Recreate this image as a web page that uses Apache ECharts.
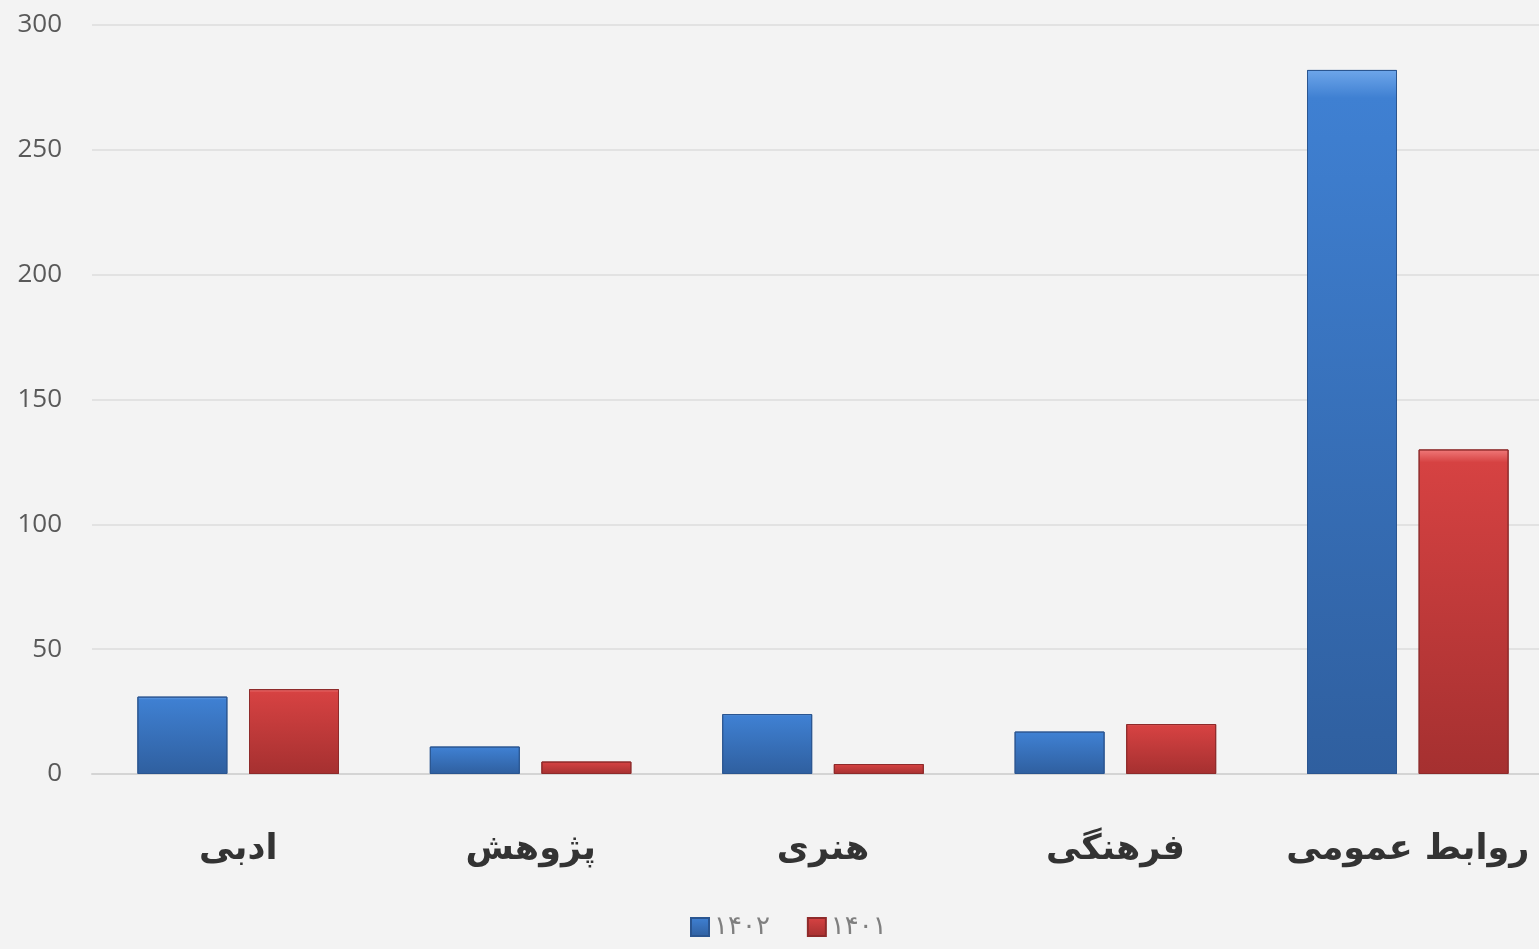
<!DOCTYPE html>
<html>
<head>
<meta charset="utf-8">
<script src="https://cdn.jsdelivr.net/npm/echarts@6/dist/echarts.min.js"></script>
<style>
    html, body {margin: 0; padding: 0; background: #f3f3f3;}
    #chart {width: 1539px; height: 949px;}
</style>
</head>
<body>
<div id="chart"></div>
<script>
// 分类与数据
var categories = ['ادبی', 'پژوهش', 'هنری', 'فرهنگی', 'روابط عمومی'];
var seriesNames = ['۱۴۰۲', '۱۴۰۱'];
var values1402 = [31, 11, 24, 17, 282];
var values1401 = [34, 5, 4, 20, 130];

var myChart = echarts.init(document.getElementById('chart'));

// 柱子渐变，模拟斜面效果
function bevel(light, mid, dark) {
    return new echarts.graphic.LinearGradient(0, 0, 0, 1, [
        {offset: 0, color: light},
        {offset: 0.04, color: mid},
        {offset: 1, color: dark}
    ]);
}

var option = {
    backgroundColor: '#f3f3f3',
    textStyle: {fontFamily: 'DejaVu Sans'},
    grid: {left: 92, right: -15, top: 25, bottom: 175, outerBoundsMode: 'none', containLabel: false},
    legend: {
        bottom: 4,
        left: 685,
        icon: 'rect',
        itemWidth: 18,
        itemHeight: 18,
        itemGap: 37,
        textStyle: {color: '#7f7f7f', fontSize: 26},
        data: seriesNames
    },
    xAxis: {
        type: 'category',
        data: categories,
        axisTick: {show: false},
        axisLine: {lineStyle: {color: '#d4d4d4', width: 2}},
        axisLabel: {
            interval: 0,
            hideOverlap: false,
            margin: 58,
            fontSize: 35,
            fontWeight: 'bold',
            color: '#333333'
        }
    },
    yAxis: {
        type: 'value',
        min: 0,
        max: 300,
        interval: 50,
        axisLine: {show: false},
        axisTick: {show: false},
        axisLabel: {margin: 30, fontSize: 26, color: '#595959', fontFamily: 'Open Sans'},
        splitLine: {lineStyle: {color: '#dcdcdc', width: 1.5}}
    },
    series: [
        {
            name: seriesNames[0],
            type: 'bar',
            data: values1402,
            barWidth: 90,
            barGap: '24%',
            itemStyle: {
                color: bevel('#6ea6ea', '#3f80d2', '#2f5f9f'),
                borderColor: '#2a5590',
                borderWidth: 1
            }
        },
        {
            name: seriesNames[1],
            type: 'bar',
            data: values1401,
            barWidth: 90,
            barGap: '24%',
            itemStyle: {
                color: bevel('#f07a7a', '#d64242', '#a53030'),
                borderColor: '#8e2a2a',
                borderWidth: 1
            }
        }
    ]
};

myChart.setOption(option);
</script>
</body>
</html>
